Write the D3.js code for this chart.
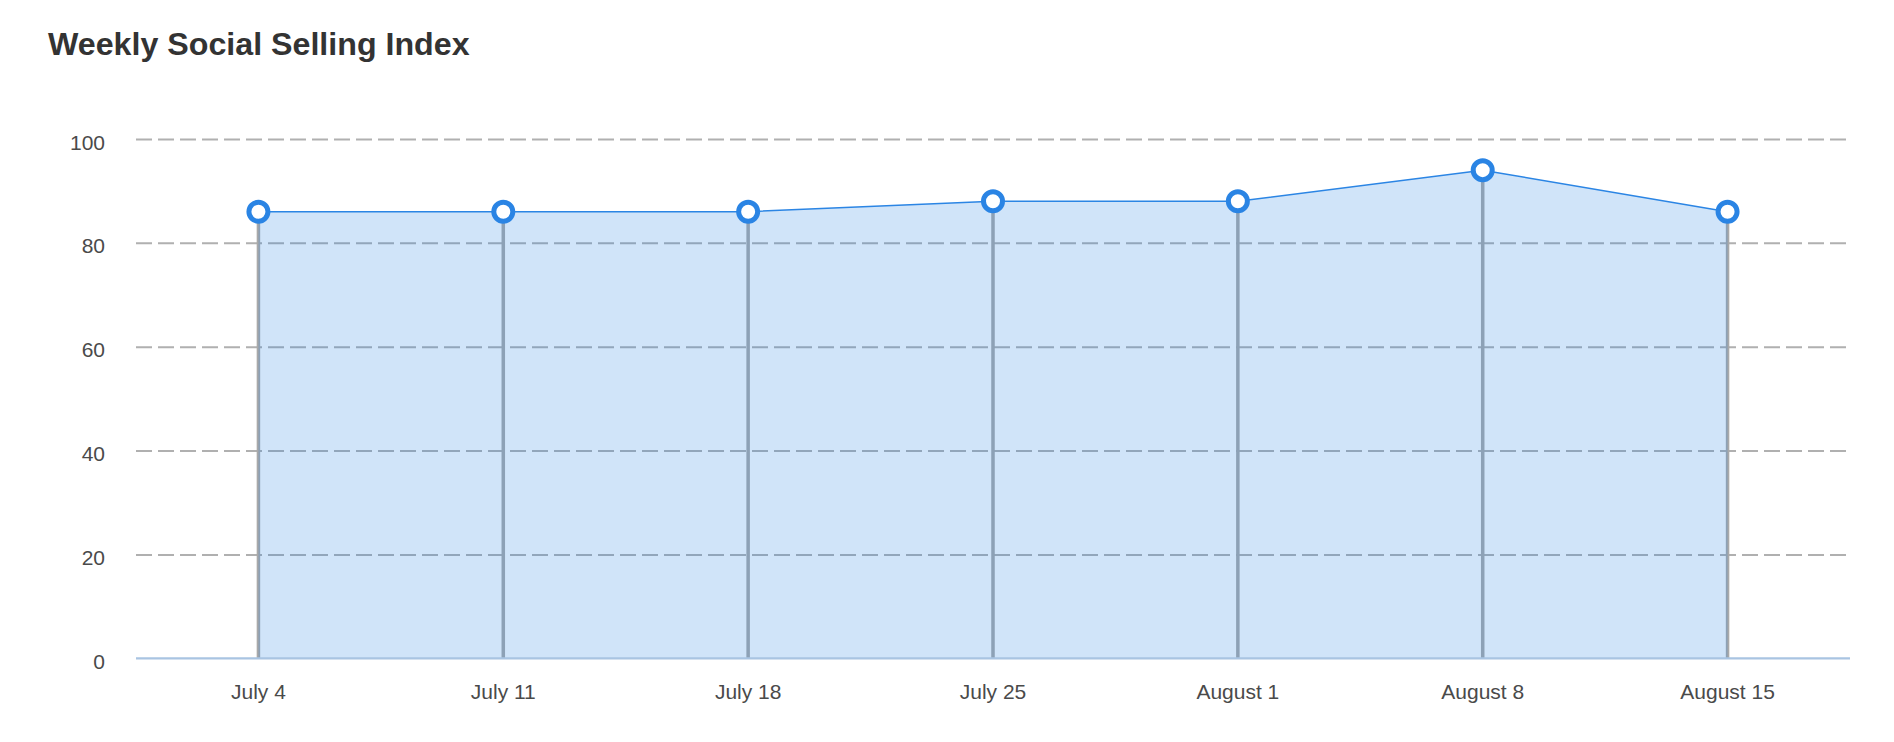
<!DOCTYPE html>
<html>
<head>
<meta charset="utf-8">
<script src="https://cdn.jsdelivr.net/npm/d3@7"></script>
<style>
  html, body { margin: 0; padding: 0; background: #fff; }
  svg { display: block; font-family: "Liberation Sans", Arial, Helvetica, sans-serif; }
</style>
</head>
<body>
<svg id="chart" width="1894" height="742"></svg>
<script>
const title = "Weekly Social Selling Index";
const categories = ["July 4", "July 11", "July 18", "July 25", "August 1", "August 8", "August 15"];
const values = [86, 86, 86, 88, 88, 94, 86];
const yTicks = [0, 20, 40, 60, 80, 100];

(function () {
const svg = d3.select("#chart");
const plotLeft = 136, plotRight = 1850, plotTop = 139, plotBottom = 658.3;

const x = d3.scaleBand().domain(categories).range([plotLeft, plotRight]).padding(0);
const cx = d => x(d) + x.bandwidth() / 2;
const y = d3.scaleLinear().domain([0, 100]).range([plotBottom, plotTop]);

// title
svg.append("text")
  .attr("x", 48).attr("y", 55)
  .attr("font-size", 32.2).attr("font-weight", "bold")
  .attr("fill", "#333")
  .text(title);

// gridlines + y labels
const yAxis = d3.axisLeft(y).tickValues(yTicks).tickSize(0).tickPadding(0);
const yg = svg.append("g").attr("transform", `translate(${plotLeft},0)`).call(yAxis);
yg.select(".domain").remove();
yg.selectAll(".tick text")
  .attr("x", -31).attr("dy", "10")
  .attr("text-anchor", "end")
  .attr("font-size", 21).attr("fill", "#4a4a4a")
  .style("font-family", "'Liberation Sans', Arial, sans-serif");
yg.selectAll(".tick").filter(d => d !== 0).append("line")
  .attr("x1", 0).attr("x2", plotRight - plotLeft)
  .attr("stroke", "#b0b0b0").attr("stroke-width", 2)
  .attr("stroke-dasharray", "16,6");

// drop lines
svg.append("g").selectAll("line").data(categories).join("line")
  .attr("x1", d => cx(d)).attr("x2", d => cx(d))
  .attr("y1", (d, i) => y(values[i])).attr("y2", y(0))
  .attr("stroke", "#a9a9a9").attr("stroke-width", 3.5);

// area
const pts = categories.map((c, i) => [cx(c), y(values[i])]);
const area = d3.area().x(d => d[0]).y0(y(0)).y1(d => d[1]);
svg.append("path").datum(pts)
  .attr("d", area)
  .attr("fill", "rgb(42,132,228)").attr("fill-opacity", 0.22);

// x axis
const xAxis = d3.axisBottom(x).tickSize(0).tickPadding(0);
const xg = svg.append("g").attr("transform", `translate(0,${y(0)})`).call(xAxis);
xg.select(".domain").attr("stroke", "#a9c4e2").attr("stroke-width", 2.2)
  .attr("d", `M${plotLeft},0H${plotRight}`);
xg.selectAll(".tick text")
  .attr("y", 40.5).attr("dy", 0)
  .attr("font-size", 21).attr("fill", "#4a4a4a")
  .style("font-family", "'Liberation Sans', Arial, sans-serif");

// line
svg.append("path").datum(pts)
  .attr("d", d3.line())
  .attr("fill", "none").attr("stroke", "#2b85e4").attr("stroke-width", 1.5);

// markers
svg.append("g").selectAll("circle").data(pts).join("circle")
  .attr("cx", d => d[0]).attr("cy", d => d[1]).attr("r", 9.5)
  .attr("fill", "#fff").attr("stroke", "#2a84e4").attr("stroke-width", 5);
})();
</script>
</body>
</html>
